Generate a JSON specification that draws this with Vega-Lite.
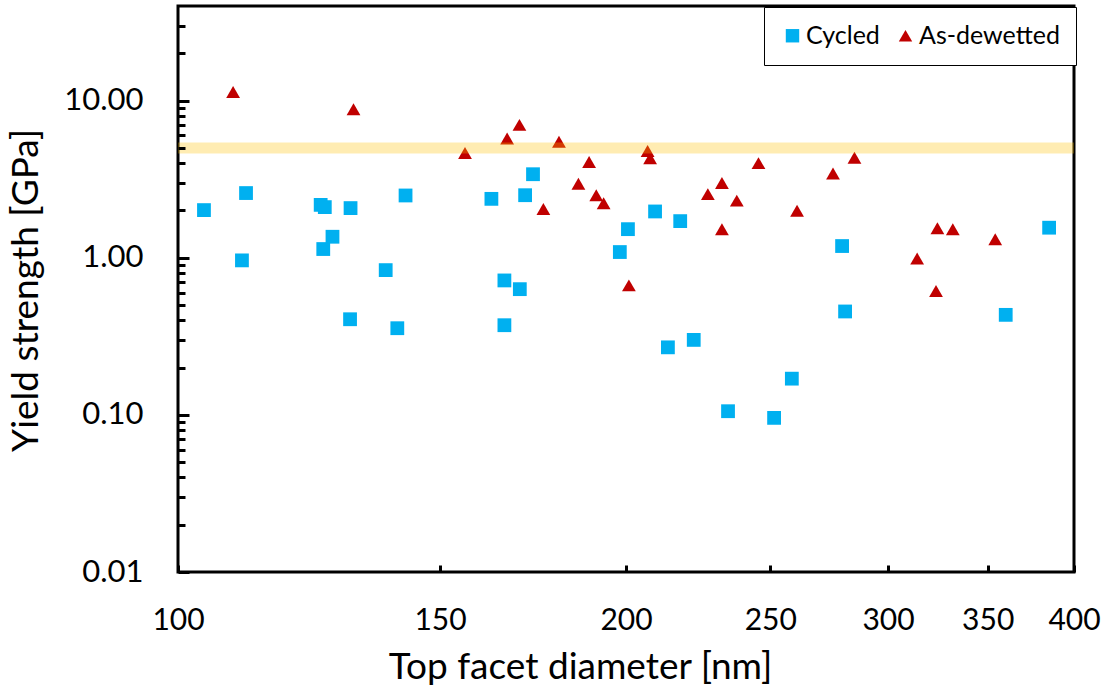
{
  "$schema": "https://vega.github.io/schema/vega-lite/v6.json",
  "width": 896,
  "height": 566,
  "autosize": {"type": "none"},
  "padding": {"left": 178, "top": 6, "right": 34, "bottom": 118},
  "background": "white",
  "config": {
    "view": {"stroke": "black", "strokeWidth": 3},
    "font": "Lato"
  },
  "datasets": {
    "points": [
      {"series": "Cycled", "diameter": 104.1, "strength": 2.01},
      {"series": "Cycled", "diameter": 110.4, "strength": 0.962},
      {"series": "Cycled", "diameter": 111.1, "strength": 2.58},
      {"series": "Cycled", "diameter": 124.7, "strength": 2.17},
      {"series": "Cycled", "diameter": 125.5, "strength": 2.10},
      {"series": "Cycled", "diameter": 125.2, "strength": 1.136},
      {"series": "Cycled", "diameter": 127.0, "strength": 1.36},
      {"series": "Cycled", "diameter": 130.6, "strength": 2.07},
      {"series": "Cycled", "diameter": 130.5, "strength": 0.406},
      {"series": "Cycled", "diameter": 137.9, "strength": 0.834},
      {"series": "Cycled", "diameter": 140.4, "strength": 0.356},
      {"series": "Cycled", "diameter": 142.2, "strength": 2.49},
      {"series": "Cycled", "diameter": 162.4, "strength": 2.37},
      {"series": "Cycled", "diameter": 165.7, "strength": 0.717},
      {"series": "Cycled", "diameter": 165.7, "strength": 0.372},
      {"series": "Cycled", "diameter": 169.7, "strength": 0.631},
      {"series": "Cycled", "diameter": 171.1, "strength": 2.50},
      {"series": "Cycled", "diameter": 173.2, "strength": 3.40},
      {"series": "Cycled", "diameter": 198.1, "strength": 1.087},
      {"series": "Cycled", "diameter": 200.6, "strength": 1.52},
      {"series": "Cycled", "diameter": 209.2, "strength": 1.97},
      {"series": "Cycled", "diameter": 213.4, "strength": 0.269},
      {"series": "Cycled", "diameter": 217.5, "strength": 1.71},
      {"series": "Cycled", "diameter": 222.1, "strength": 0.300},
      {"series": "Cycled", "diameter": 234.2, "strength": 0.1055},
      {"series": "Cycled", "diameter": 251.5, "strength": 0.0957},
      {"series": "Cycled", "diameter": 258.5, "strength": 0.170},
      {"series": "Cycled", "diameter": 279.4, "strength": 1.187},
      {"series": "Cycled", "diameter": 280.7, "strength": 0.455},
      {"series": "Cycled", "diameter": 359.9, "strength": 0.433},
      {"series": "Cycled", "diameter": 384.9, "strength": 1.553},
      {"series": "As-dewetted", "diameter": 108.9, "strength": 11.33},
      {"series": "As-dewetted", "diameter": 131.2, "strength": 8.81},
      {"series": "As-dewetted", "diameter": 155.9, "strength": 4.64},
      {"series": "As-dewetted", "diameter": 166.4, "strength": 5.74},
      {"series": "As-dewetted", "diameter": 169.6, "strength": 7.01},
      {"series": "As-dewetted", "diameter": 180.3, "strength": 5.47},
      {"series": "As-dewetted", "diameter": 176.0, "strength": 2.04},
      {"series": "As-dewetted", "diameter": 185.8, "strength": 2.96},
      {"series": "As-dewetted", "diameter": 188.9, "strength": 4.07},
      {"series": "As-dewetted", "diameter": 191.0, "strength": 2.50},
      {"series": "As-dewetted", "diameter": 193.2, "strength": 2.22},
      {"series": "As-dewetted", "diameter": 200.9, "strength": 0.667},
      {"series": "As-dewetted", "diameter": 206.8, "strength": 4.78},
      {"series": "As-dewetted", "diameter": 207.6, "strength": 4.30},
      {"series": "As-dewetted", "diameter": 227.0, "strength": 2.54},
      {"series": "As-dewetted", "diameter": 232.0, "strength": 2.99},
      {"series": "As-dewetted", "diameter": 232.0, "strength": 1.52},
      {"series": "As-dewetted", "diameter": 237.4, "strength": 2.31},
      {"series": "As-dewetted", "diameter": 245.5, "strength": 4.00},
      {"series": "As-dewetted", "diameter": 260.6, "strength": 1.99},
      {"series": "As-dewetted", "diameter": 275.5, "strength": 3.44},
      {"series": "As-dewetted", "diameter": 284.8, "strength": 4.33},
      {"series": "As-dewetted", "diameter": 313.8, "strength": 0.988},
      {"series": "As-dewetted", "diameter": 323.1, "strength": 0.614},
      {"series": "As-dewetted", "diameter": 323.8, "strength": 1.54},
      {"series": "As-dewetted", "diameter": 331.6, "strength": 1.52},
      {"series": "As-dewetted", "diameter": 354.1, "strength": 1.31}
    ],
    "band": [{"strength": 5}]
  },
  "layer": [
    {
      "data": {"name": "points"},
      "mark": {"type": "point", "filled": true, "size": 190, "opacity": 1},
      "encoding": {
        "x": {
          "field": "diameter",
          "type": "quantitative",
          "scale": {"type": "log", "domain": [100, 400], "nice": false},
          "axis": {
            "orient": "top",
            "offset": -566,
            "zindex": 1,
            "values": [100, 150, 200, 250, 300, 350, 400],
            "title": "Top facet diameter [nm]",
            "domain": false,
            "grid": false,
            "ticks": true,
            "tickSize": 7,
            "tickWidth": 3,
            "tickColor": "black",
            "labelFontSize": 30,
            "labelColor": "black",
            "labelPadding": -40,
            "labelBaseline": "top",
            "labelAlign": "center",
            "labelFlush": false,
            "labelOverlap": false,
            "titleFontSize": 37,
            "titleFontWeight": "normal",
            "titleColor": "black",
            "titleAngle": 0,
            "titleX": 402,
            "titleY": 106,
            "titleAlign": "center",
            "titleBaseline": "alphabetic"
          }
        },
        "y": {
          "field": "strength",
          "type": "quantitative",
          "scale": {"type": "log", "domain": [0.01, 40], "nice": false},
          "axis": {
            "orient": "right",
            "offset": -896,
            "zindex": 1,
            "values": [0.01, 0.1, 1, 10],
            "format": ".2f",
            "title": "Yield strength [GPa]",
            "domain": false,
            "grid": false,
            "ticks": true,
            "tickSize": 11,
            "tickWidth": 3,
            "tickColor": "black",
            "labelFontSize": 31,
            "labelColor": "black",
            "labelPadding": -46,
            "labelAlign": "right",
            "labelBaseline": "middle",
            "labelFlush": false,
            "labelOverlap": false,
            "titleFontSize": 37,
            "titleFontWeight": "normal",
            "titleColor": "black",
            "titleAngle": -90,
            "titleX": -141,
            "titleY": 284,
            "titleAlign": "center",
            "titleBaseline": "alphabetic"
          }
        },
        "color": {
          "field": "series",
          "type": "nominal",
          "scale": {"domain": ["Cycled", "As-dewetted"], "range": ["#00B0F0", "#C00000"]},
          "legend": {
            "title": null,
            "orient": "none",
            "legendX": 586,
            "legendY": 1,
            "direction": "horizontal",
            "labelFontSize": 25,
            "labelColor": "black",
            "labelOffset": 1,
            "symbolSize": 180,
            "symbolStrokeWidth": 0,
            "columnPadding": 13,
            "padding": 16,
            "strokeColor": "black",
            "fillColor": "white",
            "zindex": 2,
            "encode": {"legend": {"update": {"strokeWidth": {"value": 3}}}}
          }
        },
        "shape": {
          "field": "series",
          "type": "nominal",
          "scale": {"domain": ["Cycled", "As-dewetted"], "range": ["square", "triangle-up"]}
        }
      }
    },
    {
      "data": {"name": "band"},
      "mark": {"type": "rule", "color": "#FFC000", "opacity": 0.3, "strokeWidth": 11},
      "encoding": {
        "y": {
          "field": "strength",
          "type": "quantitative",
          "axis": {
            "orient": "right",
            "offset": -896,
            "zindex": 1,
            "values": [0.02, 0.03, 0.04, 0.05, 0.06, 0.07, 0.08, 0.09, 0.2, 0.3, 0.4, 0.5, 0.6, 0.7, 0.8, 0.9, 2, 3, 4, 5, 6, 7, 8, 9, 20, 30],
            "labels": false,
            "title": null,
            "domain": false,
            "grid": false,
            "ticks": true,
            "tickSize": 7,
            "tickWidth": 3,
            "tickColor": "black"
          }
        }
      }
    }
  ],
  "resolve": {"axis": {"y": "independent"}}
}
